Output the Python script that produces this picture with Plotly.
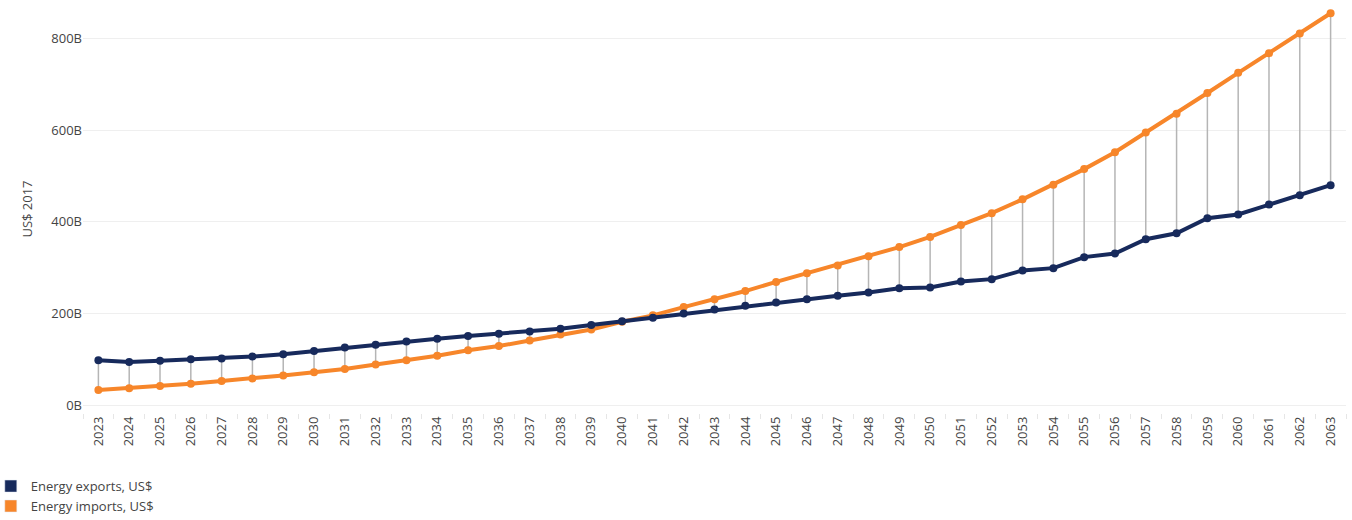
import plotly.graph_objects as go

years = [str(y) for y in range(2023, 2064)]

# Values in billions of 2017 US dollars
exports_b = [98, 94, 97, 100, 102, 106, 111, 118, 126, 132, 139, 145, 151, 156, 161,
             167, 175, 183, 191, 200, 209, 217, 224, 231, 239, 246, 255, 257, 270, 275,
             294, 299, 323, 331, 362, 375, 408, 416, 438, 458, 480]
imports_b = [33, 37, 42, 47, 53, 58, 65, 72, 79, 89, 98, 108, 120, 129, 141,
             154, 165, 182, 196, 214, 231, 249, 269, 288, 305, 325, 345, 367, 393, 419,
             449, 481, 515, 552, 595, 636, 681, 725, 768, 811, 855]

NAVY = "#172a5c"
ORANGE = "#f7862a"
FONT = "Open Sans, Liberation Sans, sans-serif"

# Vertical connectors between the two series for each year
cx, cy = [], []
for yr, e, i in zip(years, exports_b, imports_b):
    cx += [yr, yr, None]
    cy += [e, i, None]

fig = go.Figure()
fig.add_trace(go.Scatter(x=cx, y=cy, mode="lines", line=dict(color="#b5b5b5", width=1.5),
                         showlegend=False, hoverinfo="skip"))
fig.add_trace(go.Scatter(x=years, y=imports_b, mode="lines+markers", name="Energy imports, US$",
                         line=dict(color=ORANGE, width=4), marker=dict(size=8, color=ORANGE),
                         showlegend=False))
fig.add_trace(go.Scatter(x=years, y=exports_b, mode="lines+markers", name="Energy exports, US$",
                         line=dict(color=NAVY, width=4), marker=dict(size=8, color=NAVY),
                         showlegend=False))
# Square legend swatches
fig.add_trace(go.Bar(x=[None], y=[None], name="Energy exports, US$", marker_color=NAVY))
fig.add_trace(go.Bar(x=[None], y=[None], name="Energy imports, US$", marker_color=ORANGE))

fig.update_layout(
    width=1352, height=520,
    margin=dict(l=83, r=6, t=5, b=107, autoexpand=False),
    paper_bgcolor="white", plot_bgcolor="white",
    font=dict(family=FONT, size=13, color="#444"),
    legend=dict(x=-0.073, y=-0.265, xanchor="left", yanchor="bottom",
                traceorder="normal", bgcolor="rgba(0,0,0,0)",
                font=dict(size=13, color="#444"), itemwidth=30, tracegroupgap=0),
    xaxis=dict(type="category", tickangle=-90, tickson="boundaries", ticks="outside",
               ticklen=5, tickcolor="#e6e6e6", showgrid=False, showline=False,
               tickfont=dict(size=13, color="#444"), range=[-0.5, 40.5]),
    yaxis=dict(range=[-17, 873], dtick=200, ticksuffix="B", showgrid=True,
               gridcolor="#efefef", zeroline=False, showline=False, automargin=False,
               title=dict(text="US$ 2017", font=dict(size=13, color="#444")),
               tickfont=dict(size=13, color="#444")),
)

fig.write_html("out.html")
